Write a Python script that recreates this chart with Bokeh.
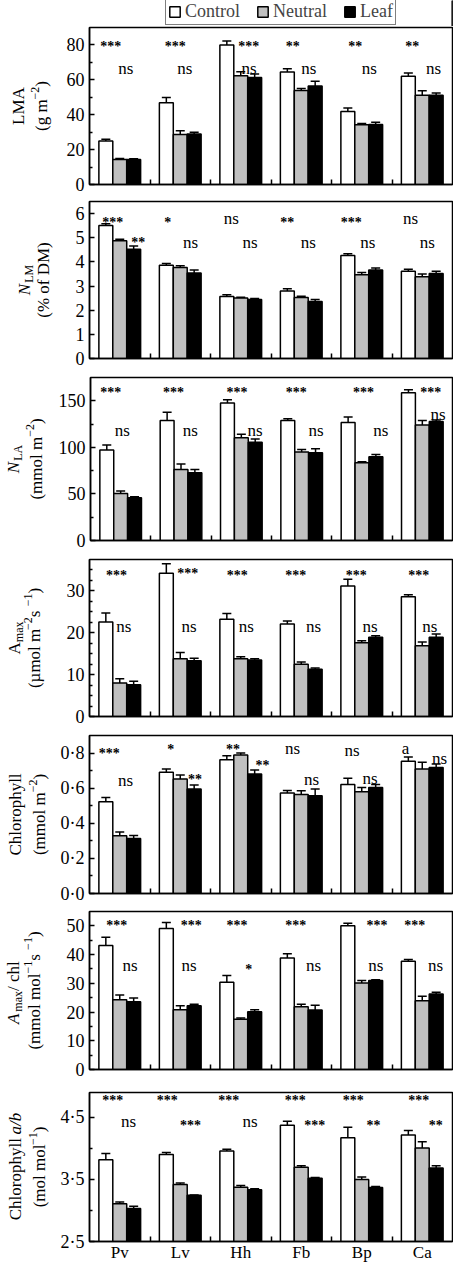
import numpy as np
from math import pi
from bokeh.plotting import figure
from bokeh.models import (Range1d, FixedTicker, ColumnDataSource, Whisker, TeeHead,
                          Legend, LegendItem)
from bokeh.layouts import column, row
from bokeh.core.properties import value
from bokeh.embed import file_html
from bokeh.resources import INLINE

# ---------------- data ----------------
categories = ["Pv", "Lv", "Hh", "Fb", "Bp", "Ca"]
series = ["Control", "Neutral", "Leaf"]

lma_control = [25.0, 46.9, 80.0, 64.5, 41.8, 62.0]
lma_control_err = [0.9, 3.0, 2.3, 1.9, 2.1, 1.9]
lma_neutral = [14.4, 28.6, 62.4, 53.9, 34.2, 51.1]
lma_neutral_err = [0.5, 2.2, 2.3, 1.1, 0.8, 2.6]
lma_leaf = [14.4, 28.9, 61.3, 56.5, 34.4, 51.1]
lma_leaf_err = [0.3, 1.0, 2.1, 2.7, 1.3, 1.3]

nlm_control = [5.51, 3.86, 2.57, 2.79, 4.26, 3.61]
nlm_control_err = [0.07, 0.07, 0.07, 0.10, 0.08, 0.09]
nlm_neutral = [4.87, 3.77, 2.50, 2.53, 3.47, 3.38]
nlm_neutral_err = [0.07, 0.07, 0.04, 0.05, 0.09, 0.12]
nlm_leaf = [4.52, 3.54, 2.44, 2.36, 3.66, 3.52]
nlm_leaf_err = [0.14, 0.12, 0.04, 0.08, 0.09, 0.09]

nla_control = [97.1, 128.8, 147.5, 128.8, 126.6, 158.6]
nla_control_err = [5.4, 9.0, 3.5, 1.8, 6.1, 3.3]
nla_neutral = [50.4, 76.3, 110.4, 95.0, 83.5, 124.1]
nla_neutral_err = [2.8, 5.7, 3.6, 2.8, 1.0, 4.7]
nla_leaf = [46.0, 72.7, 105.4, 94.2, 90.0, 127.7]
nla_leaf_err = [1.1, 3.6, 3.6, 4.4, 2.4, 1.8]

amax_control = [22.6, 34.2, 23.2, 22.1, 31.2, 28.6]
amax_control_err = [2.1, 2.3, 1.4, 0.7, 1.6, 0.5]
amax_neutral = [8.0, 13.8, 13.8, 12.5, 17.6, 16.9]
amax_neutral_err = [1.0, 1.5, 0.5, 0.5, 0.5, 0.9]
amax_leaf = [7.6, 13.3, 13.5, 11.3, 18.9, 18.9]
amax_leaf_err = [0.8, 0.6, 0.3, 0.3, 0.4, 0.8]

chl_control = [0.523, 0.690, 0.762, 0.572, 0.621, 0.753]
chl_control_err = [0.024, 0.019, 0.023, 0.015, 0.035, 0.024]
chl_neutral = [0.329, 0.652, 0.789, 0.564, 0.580, 0.709]
chl_neutral_err = [0.021, 0.023, 0.011, 0.021, 0.024, 0.038]
chl_leaf = [0.314, 0.595, 0.680, 0.557, 0.604, 0.718]
chl_leaf_err = [0.017, 0.023, 0.023, 0.038, 0.017, 0.019]

amaxchl_control = [43.2, 49.1, 30.4, 38.8, 50.0, 37.7]
amaxchl_control_err = [2.8, 2.1, 2.3, 1.5, 0.9, 0.6]
amaxchl_neutral = [24.3, 20.8, 17.5, 21.8, 30.1, 23.9]
amaxchl_neutral_err = [1.6, 1.4, 0.4, 0.9, 0.9, 1.6]
amaxchl_leaf = [23.6, 22.2, 20.1, 20.7, 31.0, 26.3]
amaxchl_leaf_err = [1.3, 0.5, 0.7, 1.7, 0.2, 0.6]

chlab_control = [3.816, 3.900, 3.959, 4.373, 4.171, 4.214]
chlab_control_err = [0.100, 0.032, 0.026, 0.063, 0.170, 0.074]
chlab_neutral = [3.110, 3.418, 3.375, 3.694, 3.497, 4.007]
chlab_neutral_err = [0.027, 0.026, 0.027, 0.026, 0.043, 0.100]
chlab_leaf = [3.031, 3.243, 3.333, 3.519, 3.370, 3.683]
chlab_leaf_err = [0.037, 0.005, 0.016, 0.010, 0.016, 0.037]

# tick values and labels
lma_ticks = [0, 20, 40, 60, 80]
lma_minor = [10, 30, 50, 70]
lma_tick_labels = ["0", "20", "40", "60", "80"]
nlm_ticks = [0, 1, 2, 3, 4, 5, 6]
nlm_minor = []
nlm_tick_labels = ["0", "1", "2", "3", "4", "5", "6"]
nla_ticks = [0, 50, 100, 150]
nla_minor = [25, 75, 125]
nla_tick_labels = ["0", "50", "100", "150"]
amax_ticks = [0, 10, 20, 30]
amax_minor = [2.5, 5, 7.5, 12.5, 15, 17.5, 22.5, 25, 27.5, 32.5, 35]
amax_tick_labels = ["0", "10", "20", "30"]
chl_ticks = [0.0, 0.2, 0.4, 0.6, 0.8]
chl_minor = [0.1, 0.3, 0.5, 0.7]
chl_tick_labels = ["0\u00b70", "0\u00b72", "0\u00b74", "0\u00b76", "0\u00b78"]
amaxchl_ticks = [0, 10, 20, 30, 40, 50]
amaxchl_minor = [5, 15, 25, 35, 45]
amaxchl_tick_labels = ["0", "10", "20", "30", "40", "50"]
chlab_ticks = [2.5, 3.5, 4.5]
chlab_minor = [3.0, 4.0]
chlab_tick_labels = ["2\u00b75", "3\u00b75", "4\u00b75"]

# significance labels (row 1: control vs treatments, row 2: neutral vs leaf)
lma_sig1 = ["***", "***", "***", "**", "**", "**"]
lma_sig2 = ["ns", "ns", "ns", "ns", "ns", "ns"]
nlm_sig1 = ["***", "*", "ns", "**", "***", "ns"]
nlm_sig2 = ["**", "ns", "ns", "ns", "ns", "ns"]
nla_sig1 = ["***", "***", "***", "***", "***", "***"]
nla_sig2 = ["ns", "ns", "ns", "ns", "ns", "ns"]
amax_sig1 = ["***", "***", "***", "***", "***", "***"]
amax_sig2 = ["ns", "ns", "ns", "ns", "ns", "ns"]
chl_sig1 = ["***", "*", "**", "ns", "ns", "a"]
chl_sig2 = ["ns", "**", "**", "ns", "ns", "ns"]
amaxchl_sig1 = ["***", "***", "***", "***", "***", "***"]
amaxchl_sig2 = ["ns", "ns", "*", "ns", "ns", "ns"]
chlab_sig1 = ["***", "***", "***", "***", "***", "***"]
chlab_sig2 = ["ns", "***", "ns", "***", "**", "**"]

# ---------------- styling / layout ----------------
SERIF = "Liberation Serif"
FILLS = ["white", "#c0c0c0", "black"]
BAR_W = 0.23
OFFSETS = [-BAR_W, 0.0, BAR_W]
REF_PX = 61.0          # pixels per group in the reference
LAB_W = 55             # width of the y-title strip
PAN_W = 398            # width of each panel figure
PAN_LEFT = 34
PAN_RIGHT = 1
SUP = 12
MAIN = 17

# em widths (Times metrics) for composing y-axis titles
EMW = {" ": .25, "(": .333, ")": .333, "%": .833, "/": .278, "\u2212": .564, "\u00b5": .5,
       "A": .722, "C": .667, "D": .722, "L": .611, "M": .889, "N": .722,
       "a": .444, "b": .5, "c": .444, "f": .333, "g": .5, "h": .5, "l": .278,
       "m": .778, "n": .5, "o": .5, "p": .5, "r": .333, "s": .389, "x": .5, "y": .5,
       "1": .5, "2": .5}


def tw(s, size):
    return sum(EMW.get(c, 0.5) for c in s) * size


def title_strip(lines, top, fh, bot):
    # the strip's frame has the same vertical extent as the panel's frame,
    # and its data units are pixels
    q = figure(width=LAB_W, height=top + fh + bot, x_range=Range1d(0, LAB_W),
               y_range=Range1d(0, fh), x_axis_type=None, y_axis_type=None,
               output_backend="svg", toolbar_location=None,
               min_border_left=0, min_border_right=0, min_border_top=top,
               min_border_bottom=bot)
    q.grid.visible = False
    q.outline_line_color = None
    xs, ys, texts, sizes, styles = [], [], [], [], []
    yc = fh / 2
    for bx, pieces in lines:
        szs = [SUP if k in ("sub", "sup") else MAIN for _, k in pieces]
        total = sum(tw(t, s) for (t, _), s in zip(pieces, szs))
        y = yc - total / 2
        for (t, k), s in zip(pieces, szs):
            shift = {"n": 0, "i": 0, "sub": 4, "sup": -7}[k]
            xs.append(bx - 8 + shift)
            ys.append(y)
            texts.append(t)
            sizes.append(f"{s}px")
            styles.append("italic" if k == "i" else "normal")
            y += tw(t, s)
    src = ColumnDataSource(dict(x=xs, y=ys, text=texts, size=sizes, style=styles))
    q.text(x="x", y="y", text="text", source=src, angle=pi / 2,
           text_align="left", text_baseline="alphabetic", text_font=value(SERIF),
           text_font_size="size", text_font_style="style", text_color="black")
    return q


panels = [
    dict(vals=(lma_control, lma_neutral, lma_leaf),
         errs=(lma_control_err, lma_neutral_err, lma_leaf_err),
         yr=(0, 90), ticks=lma_ticks, minor=lma_minor, labels=lma_tick_labels,
         ann=[(lma_sig1, [-9, -5, 8, -8.5, -6.5, -10], [83.2] * 6),
              (lma_sig2, [6, 4.5, 8.5, 7.5, 7.5, 11.5], [69] * 6)],
         ylabel=[(26, [("LMA", "n")]),
                 (49, [("(g m", "n"), ("\u22122", "sup"), (")", "n")])],
         geom=(1, 157, 11)),
    dict(vals=(nlm_control, nlm_neutral, nlm_leaf),
         errs=(nlm_control_err, nlm_neutral_err, nlm_leaf_err),
         yr=(0, 6.5), ticks=nlm_ticks, minor=nlm_minor, labels=nlm_tick_labels,
         ann=[(nlm_sig1, [-7, -12.5, -9.5, -14, -10.7, -11.7], [5.96] * 6),
              (nlm_sig2, [18.7, 10.5, 9.5, 7, 6, 5], [5.12, 4.95, 4.95, 4.95, 4.95, 4.95])],
         ylabel=[(32, [("N", "i"), ("LM", "sub")]),
                 (51, [("(% of DM)", "n")])],
         geom=(6, 157, 11)),
    dict(vals=(nla_control, nla_neutral, nla_leaf),
         errs=(nla_control_err, nla_neutral_err, nla_leaf_err),
         yr=(0, 175), ticks=nla_ticks, minor=nla_minor, labels=nla_tick_labels,
         ann=[(nla_sig1, [-10, -7.5, -4.5, -5.5, 1.5, 8.5], [166.5] * 6),
              (nla_sig2, [1.7, 9.3, 14, 14.5, 19, 16], [122.3] * 5 + [139.2])],
         ylabel=[(21, [("N", "i"), ("LA", "sub")]),
                 (44, [("(mmol m", "n"), ("\u22122", "sup"), (")", "n")])],
         geom=(8, 163, 11)),
    dict(vals=(amax_control, amax_neutral, amax_leaf),
         errs=(amax_control_err, amax_neutral_err, amax_leaf_err),
         yr=(0, 37.5), ticks=amax_ticks, minor=amax_minor, labels=amax_tick_labels,
         ann=[(amax_sig1, [-3.3, 7.5, -3.5, -5.5, -5.5, -3.5], [35.5, 35.9, 35.5, 35.5, 35.5, 35.5]),
              (amax_sig2, [4, 9, 5.5, 12.5, 8.5, 7.5], [22.5] * 6)],
         ylabel=[(22, [("A", "n"), ("max", "sub")]),
                 (42, [("(\u00b5mol m", "n"), ("\u22122", "sup"), (" s", "n"),
                       ("\u22121", "sup"), (")", "n")])],
         geom=(8, 157, 11)),
    dict(vals=(chl_control, chl_neutral, chl_leaf),
         errs=(chl_control_err, chl_neutral_err, chl_leaf_err),
         yr=(0, 0.9), ticks=chl_ticks, minor=chl_minor, labels=chl_tick_labels,
         ann=[(chl_sig1, [-10.5, -9.5, -7.8, -8.8, -9.8, -16.8],
               [0.842, 0.861, 0.861, 0.848, 0.836, 0.851]),
              (chl_sig2, [5.8, 14.8, 22, 10.3, 8.5, 17.5],
               [0.667, 0.694, 0.770, 0.671, 0.678, 0.790])],
         ylabel=[(23, [("Chlorophyll", "n")]),
                 (47, [("(mmol m", "n"), ("\u22122", "sup"), (")", "n")])],
         geom=(8, 158, 11)),
    dict(vals=(amaxchl_control, amaxchl_neutral, amaxchl_leaf),
         errs=(amaxchl_control_err, amaxchl_neutral_err, amaxchl_leaf_err),
         yr=(0, 55), ticks=amaxchl_ticks, minor=amaxchl_minor, labels=amaxchl_tick_labels,
         ann=[(amaxchl_sig1, [-3, 11, -3.7, -5.5, 15.5, -7.5], [52.6] * 6),
              (amaxchl_sig2, [10.3, 9, 8, 12.5, 14.3, 13.5], [37.6, 37.6, 37.4, 37.6, 37.6, 37.6])],
         ylabel=[(21, [("A", "i"), ("max", "sub"), (" / chl", "n")]),
                 (42, [("(mmol mol", "n"), ("\u22121", "sup"), (" s", "n"),
                       ("\u22121", "sup"), (")", "n")])],
         geom=(7, 158, 11)),
    dict(vals=(chlab_control, chlab_neutral, chlab_leaf),
         errs=(chlab_control_err, chlab_neutral_err, chlab_leaf_err),
         yr=(2.5, 4.9), ticks=chlab_ticks, minor=chlab_minor, labels=chlab_tick_labels,
         ann=[(chlab_sig1, [-7, -13.2, -12, -6, -8.5, -3.5], [4.887] * 6),
              (chlab_sig2, [9, 10.3, 9.3, 13.5, 11.8, 13.5], [4.49] * 6)],
         ylabel=[(23, [("Chlorophyll ", "n"), ("a/b", "i")]),
                 (47, [("(mol mol", "n"), ("\u22121", "sup"), (")", "n")])],
         geom=(12, 150, 22)),
]

centers = [i + 0.5 for i in range(len(categories))]
bounds = [i + 1.0 for i in range(len(categories) - 1)]

# ---- legend strip ----
lg = figure(width=LAB_W + PAN_W, height=26, x_range=Range1d(0, 1), y_range=Range1d(0, 1),
            x_axis_type=None, y_axis_type=None,
            output_backend="svg", toolbar_location=None,
            min_border_left=LAB_W + PAN_LEFT, min_border_right=PAN_RIGHT,
            min_border_top=0, min_border_bottom=0)
lg.grid.visible = False
lg.outline_line_color = None
lg_items = []
for s_i, name in enumerate(series):
    # a single bar placed outside the visible range; it only feeds the legend swatch
    r = lg.vbar(x=[5.0], top=[1.0], width=0.1, fill_color=FILLS[s_i], line_color="black",
                line_width=1.5)
    lg_items.append(LegendItem(label=name, renderers=[r]))
legend = Legend(items=lg_items, orientation="horizontal", location=(76, 1),
                label_text_font=SERIF, label_text_font_size="18px",
                glyph_width=13, glyph_height=13, label_height=16,
                label_standoff=4, spacing=16, padding=2, margin=0,
                border_line_color="black", border_line_width=1.2)
lg.add_layout(legend, "center")

rows = [lg]
for idx, pn in enumerate(panels):
    top, fh, bot = pn["geom"]
    last = idx == len(panels) - 1
    p = figure(width=PAN_W, height=top + fh + bot,
               x_range=Range1d(0, len(categories)), y_range=Range1d(*pn["yr"]),
               output_backend="svg", toolbar_location=None,
               min_border_left=PAN_LEFT, min_border_right=PAN_RIGHT,
               min_border_top=top, min_border_bottom=bot)
    p.grid.visible = False
    p.outline_line_color = "black"
    p.outline_line_width = 1.5

    base = pn["yr"][0]
    for s_i, name in enumerate(series):
        vals = pn["vals"][s_i]
        errs = pn["errs"][s_i]
        xs = [c + OFFSETS[s_i] for c in centers]
        src = ColumnDataSource(dict(x=xs, top=vals, lower=vals,
                                    upper=[v + e for v, e in zip(vals, errs)]))
        w = Whisker(base="x", lower="lower", upper="upper", source=src,
                    dimension="height", line_color="black", line_width=1.5,
                    lower_head=None,
                    upper_head=TeeHead(size=9, line_color="black", line_width=1.5))
        p.add_layout(w)
        p.vbar(x="x", top="top", bottom=base, width=BAR_W, source=src,
               fill_color=FILLS[s_i], line_color="black", line_width=1.5)

    # significance annotations
    for texts, dxs, ys in pn["ann"]:
        for star in (True, False):
            sel = [k for k, t in enumerate(texts) if (t.startswith("*") == star)]
            if not sel:
                continue
            src = ColumnDataSource(dict(
                x=[centers[k] + dxs[k] / REF_PX for k in sel],
                y=[ys[k] for k in sel],
                text=[texts[k] for k in sel]))
            p.text(x="x", y="y", text="text", source=src,
                   text_font=value(SERIF),
                   text_font_size="14px" if star else "17px",
                   text_font_style="bold" if star else "normal",
                   text_align="center", text_baseline="alphabetic",
                   y_offset=7.5 if star else 4, text_color="black")

    # y axis
    ya = p.yaxis[0]
    ya.ticker = FixedTicker(ticks=pn["ticks"], minor_ticks=pn["minor"])
    ya.major_label_overrides = {t: l for t, l in zip(pn["ticks"], pn["labels"])}
    ya.major_tick_in = 5
    ya.major_tick_out = 0
    ya.minor_tick_in = 3
    ya.minor_tick_out = 0
    ya.axis_line_width = 1.5
    ya.major_tick_line_width = 1.5
    ya.minor_tick_line_width = 1.5
    ya.major_label_text_font = SERIF
    ya.major_label_text_font_size = "18px"
    ya.major_label_text_color = "black"
    ya.major_label_standoff = 5

    # x axis: group separators as inward minor ticks, names only on the last panel
    xa = p.xaxis[0]
    xa.minor_tick_in = 5
    xa.minor_tick_out = 0
    xa.minor_tick_line_width = 1.5
    xa.axis_line_width = 1.5
    xa.major_tick_line_color = None
    xa.major_tick_in = 0
    xa.major_tick_out = 0
    if last:
        xa.ticker = FixedTicker(ticks=centers, minor_ticks=bounds)
        xa.major_label_overrides = {c: n for c, n in zip(centers, categories)}
        xa.major_label_text_font = SERIF
        xa.major_label_text_color = "black"
        xa.major_label_text_font_size = "17px"
        xa.major_label_standoff = 1
    else:
        xa.ticker = FixedTicker(ticks=[], minor_ticks=bounds)
        xa.major_label_standoff = 0

    strip = title_strip(pn["ylabel"], top, fh, bot)
    rows.append(row(strip, p, spacing=0))

layout = column(*rows, spacing=0)
open("out.html", "w").write(file_html(layout, INLINE))
